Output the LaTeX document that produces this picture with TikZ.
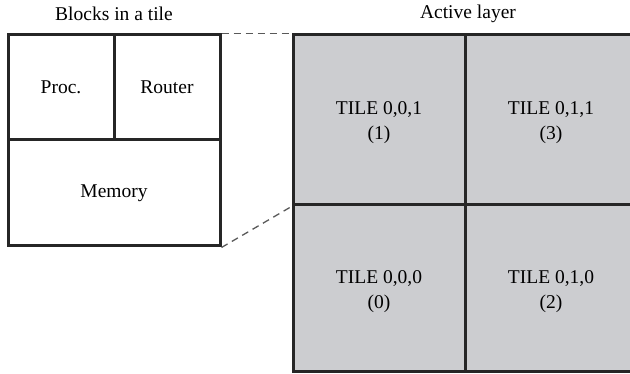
\documentclass[tikz,border=0pt]{standalone}
\usepackage{fontspec}
\setmainfont{Liberation Serif}
\begin{document}
\begin{tikzpicture}[x=1pt,y=-1pt,
  cell/.style={draw=black!85, line width=3pt, inner sep=0pt, align=center,
    font=\fontsize{19.5}{25}\selectfont},
  tilecell/.style={cell, fill=tilegray, minimum width=172pt, minimum height=170pt},
  title/.style={font=\fontsize{19.5}{24}\selectfont, inner sep=0pt},
  link/.style={draw=black!65, line width=1.3pt, dash pattern=on 7pt off 5pt}]
\definecolor{tilegray}{RGB}{204,205,208}
\useasboundingbox (0,0) rectangle (630,374);
% blocks in a tile
\node[cell, minimum width=106pt, minimum height=105pt] (proc) at (61,87.5) {Proc.};
\node[cell, minimum width=106pt, minimum height=105pt] (router) at (167,87.5) {Router};
\node[cell, minimum width=212pt, minimum height=106pt] (mem) at (114,193) {Memory};
\node[title] (t1) at (114,14) {Blocks in a tile};
% active layer
\node[tilecell] (c001) at (379,120) {};
\node[tilecell] (c011) at (551,120) {};
\node[tilecell, minimum height=167pt] (c000) at (379,288.5) {};
\node[tilecell, minimum height=167pt] (c010) at (551,288.5) {};
\node[cell, draw=none] (l001) at ([yshift=-3pt]c001.center) {TILE 0,0,1\\(1)};
\node[cell, draw=none] (l011) at ([yshift=-3pt]c011.center) {TILE 0,1,1\\(3)};
\node[cell, draw=none] (l000) at ([yshift=-3pt]c000.center) {TILE 0,0,0\\(0)};
\node[cell, draw=none] (l010) at ([yshift=-3pt]c010.center) {TILE 0,1,0\\(2)};
\node[title] (t2) at (468,14) {Active layer};
% zoom lines
\draw[link] (router.north east) -- (c001.north west);
\draw[link] (mem.south east) -- (c001.south west);
\end{tikzpicture}
\end{document}
